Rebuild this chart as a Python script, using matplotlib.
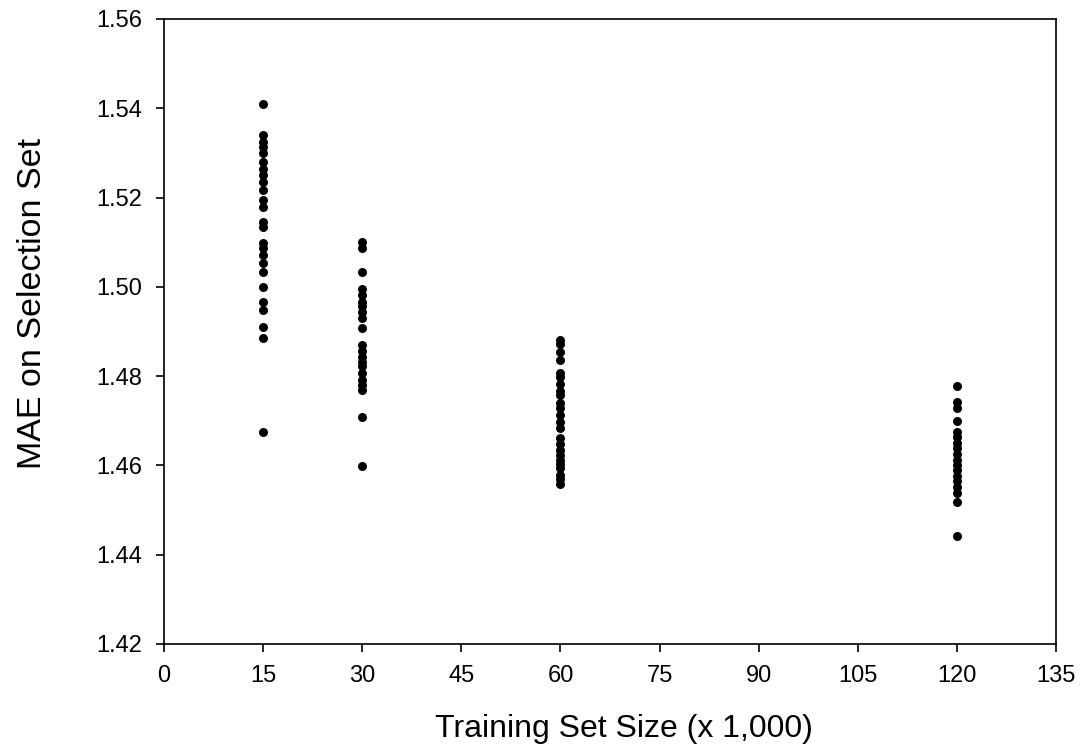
import numpy as np
import matplotlib.pyplot as plt

plt.rcParams['font.family'] = ['Liberation Sans', 'DejaVu Sans']

# MAE on selection set, per training set size (x 1,000)
mae_15 = [1.5410, 1.5340, 1.5325, 1.5313, 1.5300, 1.5280, 1.5265, 1.5250, 1.5235,
          1.5218, 1.5195, 1.5178, 1.5145, 1.5134, 1.5098, 1.5087, 1.5071, 1.5053,
          1.5033, 1.4999, 1.4966, 1.4948, 1.4910, 1.4885, 1.4675]
mae_30 = [1.5100, 1.5087, 1.5033, 1.4996, 1.4981, 1.4966, 1.4956, 1.4944, 1.4931,
          1.4908, 1.4870, 1.4857, 1.4842, 1.4832, 1.4822, 1.4807, 1.4792, 1.4780,
          1.4769, 1.4708, 1.4599]
mae_60 = [1.4881, 1.4873, 1.4854, 1.4836, 1.4807, 1.4797, 1.4782, 1.4767, 1.4757,
          1.4740, 1.4728, 1.4713, 1.4698, 1.4684, 1.4661, 1.4648, 1.4635, 1.4623,
          1.4613, 1.4603, 1.4594, 1.4579, 1.4569, 1.4559]
mae_120 = [1.4777, 1.4741, 1.4729, 1.4699, 1.4674, 1.4663, 1.4650, 1.4638, 1.4626,
           1.4613, 1.4601, 1.4589, 1.4577, 1.4564, 1.4551, 1.4538, 1.4517, 1.4442]

sizes = [15, 30, 60, 120]
groups = [mae_15, mae_30, mae_60, mae_120]

fig = plt.figure(figsize=(10.82, 7.53), dpi=100)
ax = fig.add_axes([0.1516, 0.1448, 0.8244, 0.83])

for size, vals in zip(sizes, groups):
    ax.scatter([size] * len(vals), vals, s=42, color='black', linewidths=0, zorder=3)

ax.set_xlim(0, 135)
ax.set_ylim(1.42, 1.56)
ax.set_xticks(np.arange(0, 136, 15))
ax.set_yticks(np.arange(1.42, 1.5601, 0.02))
ax.yaxis.set_major_formatter(plt.FormatStrFormatter('%.2f'))
ax.tick_params(direction='out', length=6, width=1.2, labelsize=17, pad=9.5)
for s in ax.spines.values():
    s.set_linewidth(1.2)

ax.set_xlabel('Training Set Size (x 1,000)', fontsize=23)
ax.set_ylabel('MAE on Selection Set', fontsize=24.5)
ax.xaxis.set_label_coords(0.516, -0.112)
ax.yaxis.set_label_coords(-0.130, 0.545)

fig.savefig('out.png', dpi=100)
